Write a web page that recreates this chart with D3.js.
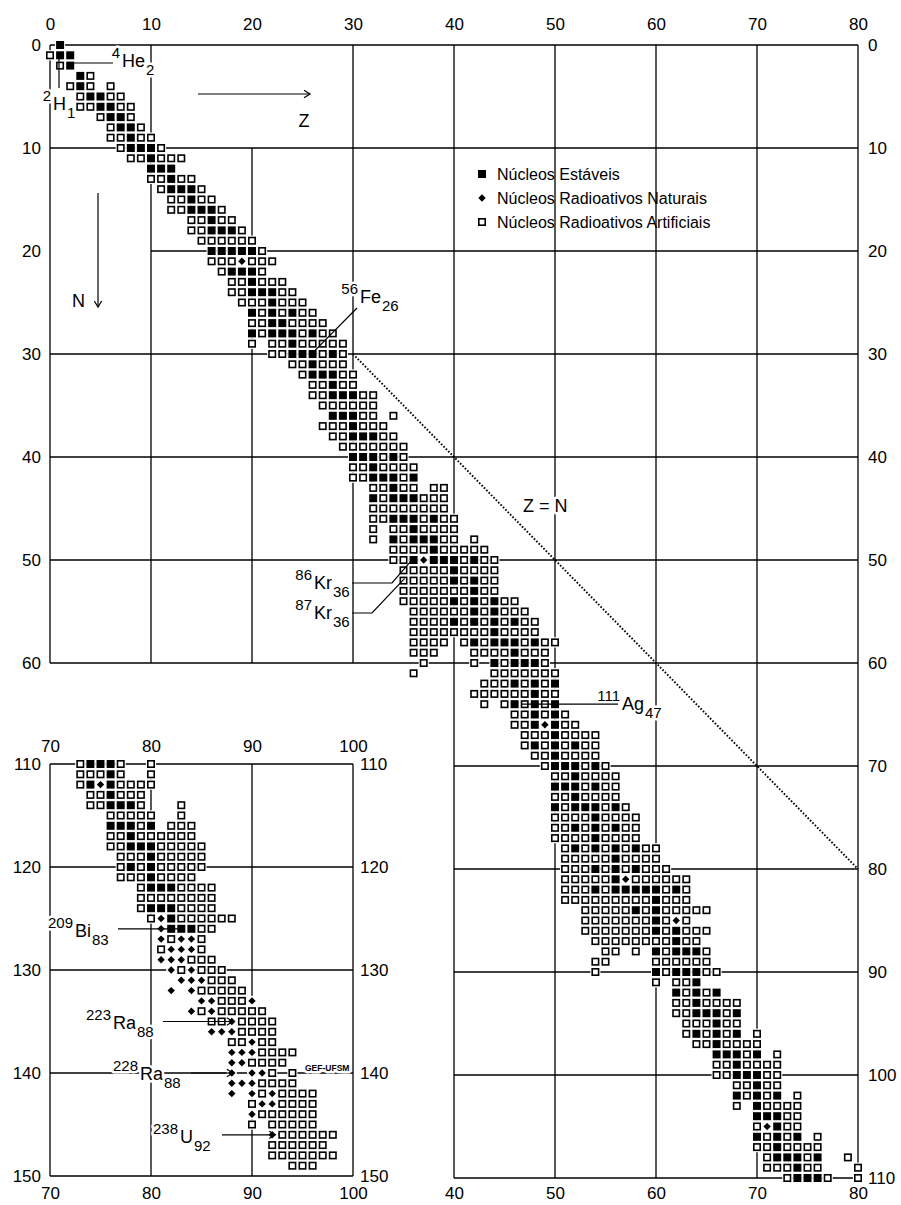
<!DOCTYPE html>
<html>
<head>
<meta charset="utf-8">
<script src="https://cdn.jsdelivr.net/npm/d3@7"></script>
<style>
  body { margin: 0; background: #fff; }
  svg { display: block; }
  text { font-family: "Liberation Sans", Arial, sans-serif; fill: #000; }
</style>
</head>
<body>
<div id="chart"></div>
<script>
// one string per neutron number: "first Z:cells" (s = stable, n = natural radioactive, a = artificial, . = empty)
// N = 0 .. 60
const mainRows = [
  '1:s', '0:ass', '1:as', '3:sa', '2:asa.a', '3:assaa', '3:aassaa', '5:assa', '6:assa', '6:aasaa',
  '7:asssa', '8:aasaaa', '10:sss', '10:aasaa', '11:asssa', '12:aasaa', '12:aasssa', '14:aasaa', '14:aasssa', '15:aaaaaa',
  '16:sssssa', '16:aaanaaa', '17:asssa', '18:aasaaa', '18:aasssaa', '19:aaasaaa', '20:sasasaa', '20:aassaaaa', '20:sasssasaa', '20:a.aasaaaaa',
  '22:aasssasa', '24:aasaaa', '25:asssaa', '26:aasaa', '26:aasssaa', '27:aaaaaa', '28:sssaa.a', '27:aaasaaa', '28:aasssaa', '29:aaaaaaa',
  '30:sssasa', '30:aasaaaa', '30:aasssas', '32:aasaa.aa', '32:sasssaaa', '32:aaaaaaaa', '32:aasssasaa', '32:a.aasaaaa', '32:a.sasssaa.a', '34:aaaasaaaaa',
  '34:aasnsssasaa', '35:aaaaasaaaa', '35:aaaaasasaa', '35:aaaaaaasaa', '35:aaaaasasasaa', '36:aaaaaasasaaa', '36:aaaasasasasaa', '36:aaaaaaaasaaaa', '36:aaaa.asasssasaa', '36:aaa...aaaasaaa',
  '37:a....a.sasssa'
]
// N = 61 .. 110
const lowerRightRows = [
  '36:a.......aaaaaaa', '43:aaasasas', '42:aaaaaasaa', '43:a.asasas', '46:aasasa', '46:aasnsaa', '47:aaasaaaa', '47:asasasaa', '48:aasaaaa', '49:asssasa',
  '50:aasaaaa', '50:sssasaa', '50:aasaaaa', '50:sasssasa', '50:aaaasaaaa', '50:aasasasaa', '50:aaaasaaaa', '51:asasasasaa', '51:aaaaasaaaa', '51:aaasasasaaa',
  '51:aaaaasnaaaaaa', '51:aaasasssssasa', '51:aaaaaaaaasaaa', '53:aaaaasasaaaaa', '53:aaaaaaasana', '53:aaaaaaasasaaa', '54:aaaaaaaasaa', '55:aa.a.sasssa', '54:aa....aaaaaa', '54:a.....sasssaa',
  '60:a.aas', '62:sasas', '62:aasaaaa', '62:aasssas', '63:aaasaa', '63:asasas.a', '64:aasaaaa', '66:sssas.a', '66:aasaaaa', '66:aasssaa',
  '68:aasaa', '68:sasas.a', '68:a.saaaa', '70:sssaa', '70:ansaa', '70:sasas.a', '70:aasaaaa', '71:asssas..a', '71:aaasaa...a', '73:asssa..a'
]
// N = 110 .. 149
const lowerLeftRows = [
  '73:asssa..a', '73:aaasa..a', '73:asnsaaaa', '74:aasaaa', '74:aasssa...a', '76:aaaaa..a', '76:sssas.aaa', '76:aasaaaaaa', '76:aasssaaaaa', '77:aaasaaaaa',
  '77:asasaaaaa', '77:aaasaaaa', '79:asssaaaa', '79:aaaaaaaa', '79:asssaaaa', '80:ansaaaaaa', '81:nsssaa', '81:nanna', '81:annna', '81:nnnaaa',
  '82:nanaaa', '83:nnnaaa', '82:n.naaaaa', '85:nnaaan', '84:nanaaaaa', '86:aanaaaa', '86:nnnaaaa', '88:aanaa', '88:nnnaaaa', '88:nnaaaa',
  '88:n.nna.a', '88:nnnaaaa', '88:n.nanaaaa', '90:annaaaa', '90:naaaaaa', '90:a.aaaaa', '92:naaaaaa', '92:aaaaaa', '92:aaaaaaa', '94:aaa'
]

const zTicksMain = [0, 10, 20, 30, 40, 50, 60, 70, 80]
const nTicksMain = [0, 10, 20, 30, 40, 50, 60]
const nTicksRight = [0, 10, 20, 30, 40, 50, 60, 70, 80, 90, 100, 110]
const zTicksLowerRight = [40, 50, 60, 70, 80]
const zTicksLowerLeft = [70, 80, 90, 100]
const nTicksLowerLeft = [110, 120, 130, 140, 150]

const legendItems = [
  { type: 's', label: 'Núcleos Estáveis' },
  { type: 'n', label: 'Núcleos Radioativos Naturais' },
  { type: 'a', label: 'Núcleos Radioativos Artificiais' },
]

const parseRows = (rows, n0) => rows.flatMap((r, i) => {
  const [z0, pattern] = r.split(':')
  return pattern.split('')
    .map((c, j) => ({ z: +z0 + j, n: n0 + i, type: c }))
    .filter(d => d.type !== '.')
})

const bigCells = parseRows(mainRows.concat(lowerRightRows), 0)
const leftCells = parseRows(lowerLeftRows, 110)

const width = 901
const height = 1205

const svg = d3.select('#chart')
  .append('svg')
  .attr('width', width)
  .attr('height', height)

const x = d3.scaleLinear().domain([0, 80]).range([50, 858])
const y = d3.scaleLinear().domain([0, 110]).range([45, 1178])
const xL = d3.scaleLinear().domain([70, 100]).range([50, 353])
const yL = d3.scaleLinear().domain([110, 150]).range([764, 1176])

const lineStyle = sel => sel.attr('stroke', '#000').attr('stroke-width', 1.3).attr('fill', 'none')

// grid segments [value, from, to]
const hGridMain = [[0, 0, 80], [10, 0, 80], [20, 10, 80], [30, 0, 80], [40, 0, 80], [50, 0, 80], [60, 0, 80],
  [70, 40, 80], [80, 40, 80], [90, 40, 80], [100, 40, 80], [110, 40, 80]]
const vGridMain = [[0, 0, 60], [10, 0, 60], [20, 10, 60], [30, 0, 60], [40, 0, 110], [50, 0, 110],
  [60, 0, 110], [70, 0, 110], [80, 0, 110]]

const grid = svg.append('g')
grid.selectAll('.hm').data(hGridMain).enter().append('line')
  .attr('x1', d => x(d[1])).attr('x2', d => x(d[2]))
  .attr('y1', d => y(d[0])).attr('y2', d => y(d[0]))
  .call(lineStyle)
grid.selectAll('.vm').data(vGridMain).enter().append('line')
  .attr('x1', d => x(d[0])).attr('x2', d => x(d[0]))
  .attr('y1', d => y(d[1])).attr('y2', d => y(d[2]))
  .call(lineStyle)
grid.selectAll('.hl').data(nTicksLowerLeft).enter().append('line')
  .attr('x1', xL(70)).attr('x2', xL(100))
  .attr('y1', d => yL(d)).attr('y2', d => yL(d))
  .call(lineStyle)
grid.selectAll('.vl').data(zTicksLowerLeft).enter().append('line')
  .attr('x1', d => xL(d)).attr('x2', d => xL(d))
  .attr('y1', yL(110)).attr('y2', yL(150))
  .call(lineStyle)

// Z = N
svg.append('line')
  .attr('x1', x(30)).attr('y1', y(30))
  .attr('x2', x(80)).attr('y2', y(80))
  .attr('stroke', '#000').attr('stroke-width', 1.9)
  .attr('stroke-dasharray', '1.6 1.8')

const diamond = 'M0,-3.7L3.7,0L0,3.7L-3.7,0Z'

function drawCells(cells, xs, ys) {
  const stepX = xs(1) - xs(0)
  const stepY = Math.abs(ys(1) - ys(0))
  const g = svg.append('g')
  const cell = g.selectAll('g').data(cells).enter().append('g')
    .attr('transform', d => `translate(${xs(d.z)},${ys(d.n)})`)
  cell.append('rect')
    .attr('x', -stepX / 2).attr('y', -stepY / 2)
    .attr('width', stepX).attr('height', stepY)
    .attr('fill', '#fff')
  cell.filter(d => d.type === 's').append('rect')
    .attr('x', -4).attr('y', -4).attr('width', 8).attr('height', 8)
    .attr('fill', '#000')
  cell.filter(d => d.type === 'a').append('rect')
    .attr('x', -3.2).attr('y', -3.2).attr('width', 6.4).attr('height', 6.4)
    .attr('fill', '#fff').attr('stroke', '#000').attr('stroke-width', 1.6)
  cell.filter(d => d.type === 'n').append('path')
    .attr('d', diamond).attr('fill', '#000')
}

drawCells(bigCells, x, y)
drawCells(leftCells, xL, yL)

// axes
function axisLabels(axis, transform, anchor) {
  const g = svg.append('g').attr('transform', transform).call(axis.tickSize(0).tickPadding(0))
  g.select('.domain').remove()
  g.attr('font-size', null).attr('font-family', null)
  g.selectAll('text').attr('font-size', '17px').attr('fill', '#000')
  if (anchor) g.selectAll('text').attr('text-anchor', anchor)
  return g
}
axisLabels(d3.axisTop(x).tickValues(zTicksMain).tickFormat(d3.format('d')), 'translate(0,30)')
axisLabels(d3.axisLeft(y).tickValues(nTicksMain).tickFormat(d3.format('d')), 'translate(41,0)')
axisLabels(d3.axisRight(y).tickValues(nTicksRight).tickFormat(d3.format('d')), 'translate(868,0)')
axisLabels(d3.axisBottom(x).tickValues(zTicksLowerRight).tickFormat(d3.format('d')), 'translate(0,1187)')
axisLabels(d3.axisTop(xL).tickValues(zTicksLowerLeft).tickFormat(d3.format('d')), 'translate(0,752)')
axisLabels(d3.axisBottom(xL).tickValues(zTicksLowerLeft).tickFormat(d3.format('d')), 'translate(0,1187)')
axisLabels(d3.axisLeft(yL).tickValues(nTicksLowerLeft).tickFormat(d3.format('d')), 'translate(41,0)')
axisLabels(d3.axisRight(yL).tickValues(nTicksLowerLeft).tickFormat(d3.format('d')), 'translate(360,0)')

// annotation text with white halo so the grid is broken around it
const halo = sel => sel.attr('stroke', '#fff').attr('stroke-width', 5)
  .attr('stroke-linejoin', 'round').attr('paint-order', 'stroke')

const labels = svg.append('g')
const isotopes = [
  { mass: '4', sym: 'He', z: '2', px: 122, py: 67 },
  { mass: '2', sym: 'H', z: '1', px: 53, py: 110 },
  { mass: '56', sym: 'Fe', z: '26', px: 360, py: 303 },
  { mass: '86', sym: 'Kr', z: '36', px: 314, py: 589 },
  { mass: '87', sym: 'Kr', z: '36', px: 314, py: 619 },
  { mass: '111', sym: 'Ag', z: '47', px: 622, py: 710 },
  { mass: '209', sym: 'Bi', z: '83', px: 75, py: 937 },
  { mass: '223', sym: 'Ra', z: '88', px: 113, py: 1029 },
  { mass: '228', sym: 'Ra', z: '88', px: 140, py: 1080 },
  { mass: '238', sym: 'U', z: '92', px: 180, py: 1143 },
]
isotopes.forEach(d => {
  const s = labels.append('text').attr('x', d.px).attr('y', d.py)
    .attr('font-size', '18px').text(d.sym).call(halo)
  const w = s.node().getComputedTextLength()
  labels.append('text').attr('x', d.px - 2).attr('y', d.py - 9)
    .attr('text-anchor', 'end').attr('font-size', '15px').text(d.mass).call(halo)
  labels.append('text').attr('x', d.px + w + 1).attr('y', d.py + 8)
    .attr('font-size', '15px').text(d.z).call(halo)
})

labels.append('text').attr('x', 523).attr('y', 512).attr('font-size', '18px').text('Z = N').call(halo)
labels.append('text').attr('x', 304).attr('y', 127).attr('text-anchor', 'middle')
  .attr('font-size', '18px').text('Z').call(halo)
labels.append('text').attr('x', 72).attr('y', 307).attr('font-size', '18px').text('N').call(halo)
labels.append('text').attr('x', 305).attr('y', 1071).attr('font-size', '8.5px')
  .attr('font-weight', 'bold').text('GEF-UFSM').call(halo)

// leader lines and arrows
const leaders = [
  [[72, 63], [113, 63]],
  [[59, 57], [59, 88]],
  [[357, 308], [x(26.2), y(29.7)]],
  [[352, 583], [392, 583], [x(36.1), y(49.7)]],
  [[352, 613], [372, 613], [x(35.1), y(51.8)]],
  [[x(46.7), y(64)], [618, y(64)]],
  [[118, yL(126)], [xL(83), yL(126)]],
]
const arrows = [
  [[198, 94], [310, 94]],
  [[98, 193], [98, 307]],
  [[163, yL(135)], [xL(88.1), yL(135)]],
  [[191, yL(140)], [xL(88.1), yL(140)]],
  [[222, yL(146)], [xL(92.3), yL(146)]],
]
const line = d3.line()
svg.append('g').selectAll('path').data(leaders.concat(arrows)).enter().append('path')
  .attr('d', line)
  .attr('stroke', '#000').attr('stroke-width', 1.2).attr('fill', 'none')

svg.append('g').selectAll('path').data(arrows).enter().append('path')
  .attr('d', d => {
    const [a, b] = d
    const ang = Math.atan2(b[1] - a[1], b[0] - a[0])
    const l = 7, s = 0.55
    const p1 = [b[0] - l * Math.cos(ang - s), b[1] - l * Math.sin(ang - s)]
    const p2 = [b[0] - l * Math.cos(ang + s), b[1] - l * Math.sin(ang + s)]
    return line([p1, b, p2])
  })
  .attr('stroke', '#000').attr('stroke-width', 1.2).attr('fill', 'none')

// legend
const legend = svg.append('g').attr('transform', 'translate(482,174)')
const li = legend.selectAll('g').data(legendItems).enter().append('g')
  .attr('transform', (d, i) => `translate(0,${i * 24})`)
li.filter(d => d.type === 's').append('rect')
  .attr('x', -4).attr('y', -4).attr('width', 8).attr('height', 8).attr('fill', '#000')
li.filter(d => d.type === 'n').append('path')
  .attr('d', diamond).attr('fill', '#000')
li.filter(d => d.type === 'a').append('rect')
  .attr('x', -3.2).attr('y', -3.2).attr('width', 6.4).attr('height', 6.4)
  .attr('fill', '#fff').attr('stroke', '#000').attr('stroke-width', 1.6)
li.append('text')
  .attr('x', 15).attr('y', 6)
  .attr('font-size', '16px')
  .text(d => d.label)
</script>
</body>
</html>
